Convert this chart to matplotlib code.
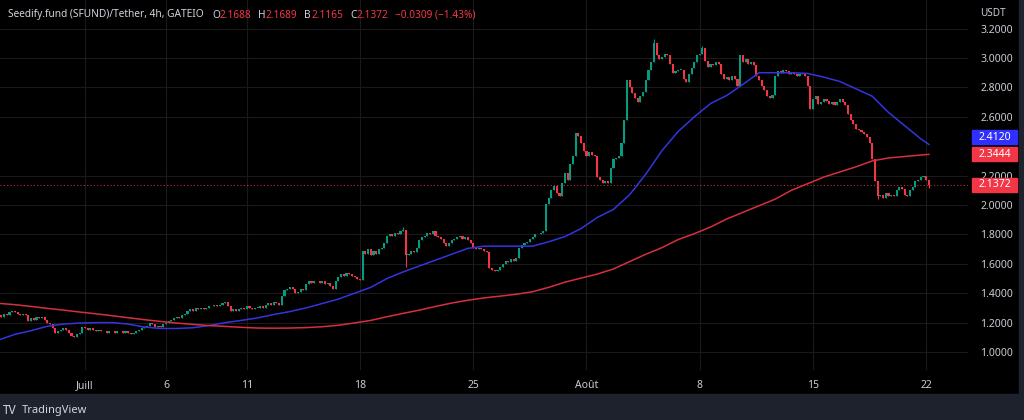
import numpy as np
import pandas as pd
import matplotlib
matplotlib.use('Agg')
import matplotlib.pyplot as plt
from matplotlib.patches import Rectangle

plt.rcParams['font.family'] = ['Noto Sans', 'DejaVu Sans']

# ---- data (4h candles, SFUND/USDT) ----
first_open = 1.26
closes = [
    1.25, 1.24, 1.26, 1.25, 1.27, 1.28, 1.27, 1.26, 1.25, 1.26,
    1.25, 1.21, 1.23, 1.22, 1.24, 1.23, 1.24, 1.22, 1.20, 1.19,
    1.16, 1.13, 1.14, 1.15, 1.16, 1.15, 1.13, 1.11, 1.10, 1.12,
    1.13, 1.17, 1.16, 1.15, 1.16, 1.15, 1.14, 1.15, 1.14, 1.14,
    1.13, 1.14, 1.14, 1.13, 1.14, 1.14, 1.13, 1.14, 1.13, 1.12,
    1.13, 1.14, 1.15, 1.16, 1.17, 1.18, 1.20, 1.19, 1.17, 1.18,
    1.17, 1.19, 1.20, 1.21, 1.22, 1.23, 1.24, 1.23, 1.25, 1.26,
    1.28, 1.29, 1.28, 1.30, 1.29, 1.30, 1.29, 1.30, 1.31, 1.31,
    1.32, 1.31, 1.32, 1.33, 1.34, 1.31, 1.28, 1.29, 1.28, 1.29,
    1.30, 1.29, 1.31, 1.30, 1.29, 1.30, 1.30, 1.31, 1.30, 1.32,
    1.33, 1.32, 1.34, 1.33, 1.32, 1.38, 1.42, 1.43, 1.44, 1.43,
    1.40, 1.41, 1.43, 1.42, 1.46, 1.48, 1.47, 1.48, 1.48, 1.47,
    1.48, 1.46, 1.47, 1.45, 1.43, 1.48, 1.51, 1.53, 1.52, 1.54,
    1.53, 1.52, 1.51, 1.50, 1.49, 1.69, 1.67, 1.70, 1.66, 1.69,
    1.67, 1.70, 1.71, 1.74, 1.79, 1.80, 1.79, 1.81, 1.80, 1.82,
    1.83, 1.66, 1.67, 1.69, 1.68, 1.71, 1.76, 1.78, 1.79, 1.81,
    1.80, 1.82, 1.79, 1.78, 1.77, 1.74, 1.72, 1.74, 1.76, 1.77,
    1.78, 1.79, 1.77, 1.78, 1.76, 1.74, 1.71, 1.70, 1.71, 1.70,
    1.69, 1.68, 1.57, 1.56, 1.55, 1.56, 1.58, 1.60, 1.62, 1.61,
    1.63, 1.62, 1.64, 1.71, 1.73, 1.74, 1.75, 1.77, 1.78, 1.80,
    1.80, 1.81, 1.82, 2.01, 2.05, 2.10, 2.13, 2.08, 2.06, 2.15,
    2.22, 2.17, 2.28, 2.33, 2.49, 2.47, 2.42, 2.37, 2.33, 2.36,
    2.34, 2.33, 2.19, 2.17, 2.15, 2.16, 2.15, 2.25, 2.31, 2.32,
    2.33, 2.42, 2.58, 2.85, 2.80, 2.76, 2.73, 2.70, 2.74, 2.77,
    2.85, 2.92, 2.97, 3.10, 3.02, 2.99, 3.01, 3.03, 3.02, 2.96,
    2.90, 2.91, 2.92, 2.92, 2.86, 2.84, 2.89, 2.93, 2.97, 3.02,
    3.03, 3.07, 2.98, 2.94, 2.96, 2.95, 2.97, 2.96, 2.89, 2.86,
    2.87, 2.85, 2.88, 2.86, 2.81, 3.02, 2.97, 2.99, 2.96, 2.97,
    2.95, 2.88, 2.85, 2.81, 2.78, 2.74, 2.73, 2.75, 2.88, 2.91,
    2.90, 2.92, 2.91, 2.89, 2.90, 2.89, 2.88, 2.89, 2.90, 2.88,
    2.81, 2.65, 2.72, 2.74, 2.69, 2.70, 2.72, 2.71, 2.69, 2.70,
    2.68, 2.70, 2.72, 2.70, 2.68, 2.62, 2.58, 2.55, 2.52, 2.51,
    2.50, 2.48, 2.46, 2.42, 2.31, 2.16, 2.06, 2.07, 2.05, 2.08,
    2.06, 2.07, 2.06, 2.10, 2.12, 2.11, 2.07, 2.06, 2.10, 2.12,
    2.16, 2.17, 2.19, 2.20, 2.1688, 2.1372,
]
# wicks that are visible at this zoom (elsewhere high/low sit on the body)
high_wicks = {150: 1.85, 243: 3.13, 261: 3.08, 345: 2.1689}
low_wicks = {151: 1.58, 326: 2.04, 345: 2.1165}

# moving averages, read once a day (every 6 candles) + last candle
ma_idx = list(range(0, 343, 6)) + [345]
blue_ma = [
    1.082, 1.12, 1.145, 1.175, 1.19, 1.197, 1.20, 1.20, 1.19, 1.17,
    1.16, 1.16, 1.165, 1.18, 1.20, 1.215, 1.232, 1.255, 1.275, 1.30,
    1.33, 1.36, 1.40, 1.44, 1.50, 1.545, 1.585, 1.625, 1.665, 1.705,
    1.72, 1.72, 1.72, 1.72, 1.75, 1.785, 1.84, 1.915, 1.97, 2.07,
    2.21, 2.37, 2.50, 2.60, 2.69, 2.745, 2.82, 2.90, 2.90, 2.90,
    2.895, 2.87, 2.84, 2.79, 2.74, 2.63, 2.54, 2.45, 2.412,
]
red_ma = [
    1.331, 1.322, 1.31, 1.297, 1.285, 1.272, 1.26, 1.247, 1.233, 1.22,
    1.208, 1.197, 1.188, 1.18, 1.174, 1.168, 1.163, 1.162, 1.163, 1.166,
    1.172, 1.182, 1.198, 1.215, 1.24, 1.263, 1.285, 1.31, 1.333, 1.352,
    1.368, 1.38, 1.393, 1.41, 1.44, 1.475, 1.503, 1.53, 1.565, 1.615,
    1.665, 1.71, 1.765, 1.805, 1.85, 1.905, 1.95, 1.995, 2.04, 2.10,
    2.145, 2.19, 2.225, 2.26, 2.30, 2.32, 2.33, 2.34, 2.3444,
]

start = pd.Timestamp('2021-06-25 16:00')
tick_dates = ['2021-07-01', '2021-07-06', '2021-07-11', '2021-07-18', '2021-07-25',
              '2021-08-01', '2021-08-08', '2021-08-15', '2021-08-22']
tick_labels = ['Juill', '6', '11', '18', '25', 'Août', '8', '15', '22']
price_ticks = [1.0, 1.2, 1.4, 1.6, 1.8, 2.0, 2.2, 2.6, 2.8, 3.0, 3.2]

UP = '#089981'
DOWN = '#f23645'
TXT = '#c9ccd4'

# ---- figure ----
fig = plt.figure(figsize=(10.24, 4.2), dpi=100, facecolor='#000000')
ax = fig.add_axes([0, 50 / 420, 968 / 1024, 370 / 420])
ax.set_facecolor('#000000')
for s in ax.spines.values():
    s.set_visible(False)

c = np.array(closes)
o = np.concatenate([[first_open], c[:-1]])
x = np.arange(len(c))
hi = np.maximum(o, c)
lo = np.minimum(o, c)
for k, v in high_wicks.items():
    hi[k] = v
for k, v in low_wicks.items():
    lo[k] = v
cols = np.where(c >= o, UP, DOWN)

ax.vlines(x, lo, hi, colors=cols, lw=0.8, zorder=3)
body = np.maximum(np.abs(c - o), 0.004)
ax.bar(x, body, bottom=np.minimum(o, c), width=0.78, color=cols, lw=0, zorder=3)

ax.plot(ma_idx, blue_ma, color='#3434e0', lw=1.1, zorder=4)
ax.plot(ma_idx, red_ma, color='#d6303e', lw=1.1, zorder=4)
ax.axhline(closes[-1], color=DOWN, lw=0.8, ls=(0, (1, 2)), alpha=0.8, zorder=2)

ax.set_xlim(0.47, 359.5)
ax.set_ylim(0.8776, 3.3946)

tick_pos = [(pd.Timestamp(d) - start) / pd.Timedelta(hours=4) for d in tick_dates]
ax.set_xticks(tick_pos)
ax.set_xticklabels(tick_labels)
ax.set_yticks(price_ticks)
ax.set_yticklabels(['%.4f' % v for v in price_ticks])
ax.yaxis.tick_right()
ax.tick_params(axis='both', length=0, labelsize=7.5, colors=TXT)
ax.tick_params(axis='y', pad=9)
ax.tick_params(axis='x', pad=7)
ax.grid(True, color='#1a1a1a', lw=0.8, zorder=0)
ax.set_axisbelow(True)

# frame around the chart (bottom bar + right edge)
fig.patches.append(Rectangle((0, 0), 1, 26 / 420, transform=fig.transFigure,
                             color='#1e222d', zorder=0))
fig.patches.append(Rectangle((1019 / 1024, 0), 5 / 1024, 1, transform=fig.transFigure,
                             color='#1e222d', zorder=0))

# last-value labels on the price scale
fig.canvas.draw()
for val, col, shift in [(blue_ma[-1], '#2f2fff', 7), (red_ma[-1], DOWN, 0),
                        (closes[-1], DOWN, 0)]:
    yd = ax.transData.transform((0, val))[1] + shift
    fig.patches.append(Rectangle((972 / 1024, (yd - 7) / 420), 45 / 1024, 14 / 420,
                                 transform=fig.transFigure, color=col, zorder=5))
    fig.text(994.5 / 1024, yd / 420, '%.4f' % val, color='white', fontsize=7.5,
             ha='center', va='center', zorder=6)

fig.text(993 / 1024, 1 - 13 / 420, 'USDT', color=TXT, fontsize=7.2, ha='center', va='center')

# legend line at the top
pieces = [('O', '#d1d4dc', 6), ('2.1688', DOWN, 0),
          ('H', '#d1d4dc', 5), ('2.1689', DOWN, 0),
          ('B', '#d1d4dc', 5), ('2.1165', DOWN, 0),
          ('C', '#d1d4dc', 5), ('2.1372', DOWN, 0),
          ('\u22120.0309 (\u22121.43%)', DOWN, 5)]
anchor = fig.text(8 / 1024, 1 - 15 / 420, 'Seedify.fund (SFUND)/Tether, 4h, GATEIO',
                  color='#d1d4dc', fontsize=7.3, va='center', ha='left')
for s, col, gap in pieces:
    anchor = ax.annotate(s, xy=(1, 0), xycoords=anchor, xytext=(gap, 0),
                         textcoords='offset points', ha='left', va='bottom',
                         color=col, fontsize=7.3, annotation_clip=False)

# TradingView mark
fig.text(3 / 1024, 10 / 420, 'TV', color='#d1d4dc', fontsize=8.5, fontweight='bold',
         ha='left', va='center')
fig.text(22 / 1024, 10 / 420, 'TradingView', color='#d1d4dc', fontsize=8,
         ha='left', va='center')

fig.savefig('out.png', dpi=100, facecolor=fig.get_facecolor())
